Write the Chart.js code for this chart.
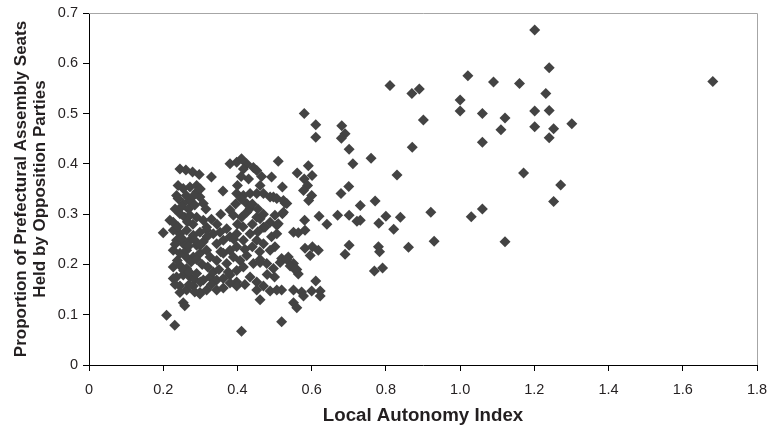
<!DOCTYPE html>
<html>
<head>
<meta charset="utf-8">
<script src="https://cdn.jsdelivr.net/npm/chart.js@4"></script>
<style>
  html, body { margin: 0; padding: 0; background: #fff; }
  #wrap { width: 768px; height: 430px; }
</style>
</head>
<body>
<div id="wrap"><canvas id="c" width="768" height="430"></canvas></div>
<script>
// Local Autonomy Index (x) and Proportion of seats held by opposition parties (y)
const localAutonomy = [
  1.201,1.240,1.021,1.090,1.160,1.681,1.231,1.000,1.000,1.060,1.201,1.240,1.121,1.110,1.201,1.252,1.240,1.301,1.060,1.171,1.271,1.252,1.060,1.030,1.121,
  0.811,0.870,0.890,0.580,0.611,0.611,0.681,0.690,0.680,0.901,0.701,0.871,0.711,0.760,0.510,0.591,0.561,0.601,0.580,0.830,0.492,0.521,0.589,0.700,0.679,
  0.600,0.592,0.497,0.528,0.731,0.771,0.921,0.521,0.581,0.620,0.641,0.670,0.701,0.722,0.731,0.781,0.800,0.839,0.821,0.551,0.564,0.930,0.861,0.780,0.783,
  0.701,0.690,0.582,0.602,0.618,0.596,0.769,0.791,0.611,0.600,0.623,0.519,0.551,0.573,
  0.245,0.261,0.279,0.297,0.330,0.380,0.398,0.411,0.425,0.443,0.452,0.416,0.400,0.361,0.461,0.240,0.254,0.272,0.290,0.290,0.236,0.240,0.272,0.299,0.308,
  0.254,0.398,0.416,0.434,0.452,0.470,0.488,0.506,0.524,0.533,0.578,0.380,0.389,0.411,0.425,0.434,0.425,0.452,0.461,0.470,0.488,0.501,0.506,0.524,0.218,
  0.227,0.245,0.258,0.272,0.290,0.308,0.317,0.200,0.582,0.227,0.245,0.263,0.281,0.299,0.317,0.335,0.353,0.371,0.236,0.254,0.272,0.290,0.308,0.344,0.362,
  0.380,0.398,0.416,0.398,0.380,0.434,0.452,0.470,0.492,0.506,0.501,0.488,0.227,0.245,0.263,0.281,0.299,0.317,0.326,0.344,0.362,0.371,0.389,0.407,0.425,
  0.443,0.416,0.398,0.461,0.479,0.497,0.519,0.537,0.551,0.560,0.564,0.227,0.245,0.263,0.236,0.254,0.272,0.290,0.308,0.326,0.227,0.344,0.362,0.380,0.398,
  0.245,0.263,0.281,0.299,0.317,0.344,0.362,0.380,0.398,0.434,0.452,0.470,0.488,0.506,0.452,0.461,0.578,0.551,0.560,0.623,0.254,0.258,0.245,0.209,0.231,
  0.411,0.519,0.510,0.474,0.461,0.515,0.533,0.542,0.555,0.299,
  0.232,0.250,0.268,0.285,0.262,0.281,0.300,0.232,0.250,0.268,0.285,0.300,0.318,0.262,0.275,0.290,0.305,0.320,0.238,0.255,0.270,0.285,0.300,0.335,0.350,
  0.232,0.270,0.285,0.330,0.315,0.330,0.345,0.355,0.280,0.265,0.240,
  0.395,0.410,0.440,0.455,0.470,0.400,0.415,0.440,0.455,0.420,0.440,0.460,0.430,0.410,0.465,0.390,0.355,0.375,0.420,0.480,0.500
];
const oppositionShare = [
  0.666,0.591,0.575,0.563,0.560,0.564,0.540,0.527,0.505,0.500,0.505,0.506,0.491,0.468,0.474,0.470,0.452,0.480,0.443,0.382,0.358,0.325,0.310,0.295,0.245,
  0.556,0.540,0.549,0.500,0.478,0.453,0.476,0.460,0.451,0.487,0.429,0.433,0.400,0.411,0.405,0.396,0.382,0.377,0.370,0.378,0.374,0.354,0.357,0.355,0.341,
  0.337,0.327,0.334,0.322,0.317,0.326,0.304,0.301,0.288,0.296,0.280,0.298,0.298,0.286,0.288,0.282,0.296,0.294,0.270,0.264,0.263,0.246,0.234,0.235,0.225,
  0.238,0.220,0.232,0.235,0.228,0.218,0.187,0.193,0.167,0.147,0.147,0.149,0.149,0.145,
  0.390,0.388,0.384,0.379,0.374,0.400,0.403,0.410,0.400,0.393,0.387,0.390,0.357,0.346,0.357,0.357,0.351,0.354,0.357,0.344,0.337,0.331,0.327,0.334,0.321,
  0.321,0.341,0.337,0.341,0.341,0.341,0.334,0.331,0.327,0.321,0.347,0.308,0.298,0.294,0.304,0.311,0.321,0.294,0.291,0.274,0.284,0.298,0.278,0.304,0.288,
  0.284,0.301,0.294,0.298,0.294,0.288,0.274,0.263,0.268,0.268,0.261,0.268,0.258,0.264,0.268,0.261,0.264,0.271,0.248,0.241,0.248,0.238,0.245,0.241,0.248,
  0.255,0.261,0.248,0.235,0.228,0.261,0.248,0.241,0.255,0.261,0.235,0.228,0.228,0.222,0.228,0.215,0.222,0.228,0.215,0.208,0.222,0.202,0.215,0.208,0.218,
  0.202,0.195,0.188,0.210,0.202,0.192,0.212,0.215,0.202,0.190,0.181,0.195,0.198,0.192,0.175,0.179,0.175,0.182,0.169,0.175,0.172,0.169,0.172,0.179,0.165,
  0.157,0.149,0.157,0.144,0.149,0.149,0.153,0.163,0.157,0.175,0.165,0.157,0.147,0.149,0.149,0.130,0.137,0.124,0.114,0.137,0.124,0.118,0.144,0.099,0.079,
  0.067,0.086,0.281,0.274,0.204,0.204,0.210,0.197,0.190,0.141,
  0.310,0.315,0.310,0.318,0.337,0.336,0.350,0.240,0.252,0.236,0.248,0.238,0.255,0.215,0.205,0.210,0.200,0.195,0.208,0.188,0.185,0.170,0.165,0.185,0.190,
  0.160,0.160,0.145,0.160,0.310,0.290,0.280,0.300,0.280,0.285,0.275,
  0.320,0.330,0.320,0.310,0.300,0.280,0.275,0.280,0.265,0.230,0.235,0.225,0.370,0.375,0.375,0.250,0.225,0.185,0.160,0.180,0.175
];
const xTickValues = [0, 0.2, 0.4, 0.6, 0.8, 1, 1.2, 1.4, 1.6, 1.8];
const yTickValues = [0, 0.1, 0.2, 0.3, 0.4, 0.5, 0.6, 0.7];
const xTitle = 'Local Autonomy Index';
const yTitle = ['Proportion of Prefectural Assembly Seats', 'Held by Opposition Parties'];

const points = localAutonomy.map((x, i) => ({ x: x, y: oppositionShare[i] }));

const FONT = "'Liberation Sans', Arial, Helvetica, sans-serif";
const TEXT = '#231f20';

const frame = {
  id: 'frame',
  beforeDatasetsDraw(chart) {
    const { ctx, chartArea: a } = chart;
    ctx.save();
    ctx.strokeStyle = '#a6a6a6';
    ctx.lineWidth = 1;
    ctx.beginPath();
    ctx.moveTo(a.left, Math.round(a.top) + 0.5);
    ctx.lineTo(Math.round(a.right) + 0.5, Math.round(a.top) + 0.5);
    ctx.lineTo(Math.round(a.right) + 0.5, a.bottom);
    ctx.stroke();
    ctx.restore();
  }
};

new Chart(document.getElementById('c'), {
  type: 'scatter',
  data: {
    datasets: [{
      data: points,
      pointStyle: 'rectRot',
      pointRadius: 5.5,
      pointHoverRadius: 5.5,
      backgroundColor: '#434343',
      borderColor: '#434343',
      borderWidth: 0
    }]
  },
  options: {
    responsive: false,
    animation: false,
    events: [],
    layout: { padding: { top: 13, right: 11, left: 0, bottom: 0 } },
    plugins: { legend: { display: false }, tooltip: { enabled: false } },
    scales: {
      x: {
        type: 'linear',
        min: xTickValues[0],
        max: xTickValues[xTickValues.length - 1],
        afterBuildTicks(scale) { scale.ticks = xTickValues.map(v => ({ value: v })); },
        afterFit(scale) { scale.height = 65; scale.paddingLeft = 0; scale.paddingRight = 0; },
        border: { display: true, color: '#000', width: 1 },
        grid: { display: true, drawOnChartArea: false, drawTicks: true, tickLength: 6, tickColor: '#000' },
        ticks: { color: TEXT, padding: 10, font: { family: FONT, size: 14.5 }, maxRotation: 0 },
        title: { display: true, text: xTitle, color: TEXT, padding: { top: 0, bottom: 3 },
                 font: { family: FONT, size: 18.7, weight: 'bold', lineHeight: 1.2 } }
      },
      y: {
        type: 'linear',
        min: yTickValues[0],
        max: yTickValues[yTickValues.length - 1],
        afterBuildTicks(scale) { scale.ticks = yTickValues.map(v => ({ value: v })); },
        afterFit(scale) { scale.width = 89; scale.paddingTop = 0; scale.paddingBottom = 0; },
        border: { display: true, color: '#000', width: 1 },
        grid: { display: true, drawOnChartArea: false, drawTicks: true, tickLength: 6, tickColor: '#000' },
        ticks: { color: TEXT, padding: 5, font: { family: FONT, size: 14.5 } },
        title: { display: true, text: yTitle, color: TEXT, padding: { top: 11.5, bottom: 0 },
                 font: { family: FONT, size: 17, weight: 'bold', lineHeight: 1.118 } }
      }
    }
  },
  plugins: [frame]
});
</script>
</body>
</html>
